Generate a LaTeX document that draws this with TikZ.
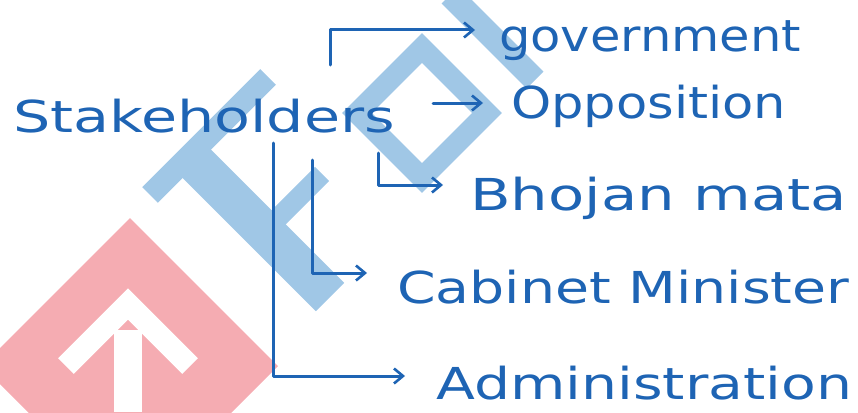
\documentclass[tikz,border=0pt]{standalone}
\usepackage{fontspec}
\newfontfamily\hwfont{DejaVu Sans}
\usetikzlibrary{arrows.meta}
\definecolor{ink}{RGB}{30,100,180}
\definecolor{wmblue}{RGB}{160,199,230}
\definecolor{wmred}{RGB}{245,172,178}
\begin{document}
\begin{tikzpicture}[x=1pt,y=-1pt,
  hw/.style={font=\hwfont\fontsize{44}{50}\selectfont, text=ink, inner sep=0pt, anchor=base west},
  conn/.style={draw=ink, line width=3pt, line cap=round, line join=round,
    -{Straight Barb[length=9pt,width=15pt,line width=2.6pt]}},
  wm/.style={line cap=butt, line join=miter}]
\useasboundingbox (0,0) rectangle (858,412);
% faint watermark
\begin{scope}
  \clip (0,0) rectangle (858,412);
  \fill[wmred] (130,218) -- (278,366) -- (130,514) -- (-18,366) -- cycle;
  \draw[white, wm, line width=22pt] (66,366) -- (128,304) -- (190,366);
  \fill[white] (114,330) rectangle (142,412);
  \draw[wmblue, wm, line width=22pt] (150,195) -- (268,77);
  \draw[wmblue, wm, line width=40pt] (190,157) -- (330,297);
  \draw[wmblue, wm, line width=20pt] (268,228) -- (322,174);
  \draw[wmblue, wm, line width=21pt] (422,48) -- (487,113) -- (422,178) -- (357,113) -- cycle;
  \draw[wmblue, wm, line width=24pt] (450,-5) -- (535,80);
\end{scope}
% texts
\node[hw] (S)   at (13,132)  {\scalebox{1.334}[1]{Stakeholders}};
\node[hw] (gov) at (499,52)  {\scalebox{1.126}[1]{government}};
\node[hw] (opp) at (511,118) {\scalebox{1.161}[1]{Opposition}};
\node[hw] (bho) at (470,210) {\scalebox{1.346}[1]{Bhojan mata}};
\node[hw] (cab) at (397,303) {\scalebox{1.257}[1]{Cabinet Minister}};
\node[hw] (adm) at (436,399) {\scalebox{1.292}[1]{Administration}};
% connectors
\draw[conn] ([xshift=317pt,yshift=67pt]S.base west) |- ([xshift=-24pt,yshift=22pt]gov.base west);
\draw[conn] ([xshift=38pt,yshift=29pt]S.base east) -- ([xshift=-28pt,yshift=15pt]opp.base west);
\draw[conn] ([xshift=-17pt,yshift=-21pt]S.base east) |- ([xshift=-27pt,yshift=25pt]bho.base west);
\draw[conn] ([xshift=299pt,yshift=-28pt]S.base west) |- ([xshift=-30pt,yshift=30pt]cab.base west);
\draw[conn] ([xshift=260pt,yshift=-11pt]S.base west) |- ([xshift=-31pt,yshift=23pt]adm.base west);
\end{tikzpicture}
\end{document}
